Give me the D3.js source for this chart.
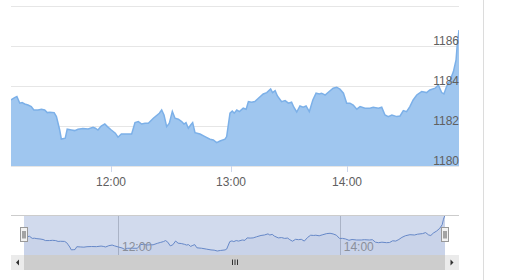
<!DOCTYPE html>
<html><head><meta charset="utf-8">
<script src="https://cdn.jsdelivr.net/npm/d3@7"></script>
<style>body{margin:0;background:#fff}svg{display:block;font-family:"Liberation Sans",Arial,sans-serif}</style>
</head><body><svg id="c" width="522" height="280"></svg>
<script>
const times = ["11:09:00","11:10:50","11:12:00","11:13:30","11:14:40","11:16:00","11:17:40","11:19:20","11:20:40","11:22:50",
"11:24:30","11:26:10","11:27:30","11:28:50","11:31:00","11:32:10","11:33:00","11:33:50","11:34:40","11:36:00",
"11:36:40","11:37:40","11:39:50","11:41:30","11:43:10","11:45:40","11:48:20","11:50:50","11:52:00","11:53:20",
"11:55:00","11:56:50","11:58:10","12:00:10","12:02:10","12:03:30","12:05:10","12:07:40","12:10:20","12:12:00",
"12:13:40","12:15:20","12:17:00","12:18:40","12:21:10","12:22:30","12:24:10","12:25:20","12:26:30","12:27:50",
"12:29:10","12:30:40","12:32:00","12:33:40","12:35:20","12:36:30","12:37:30","12:38:40","12:39:50","12:40:50",
"12:42:00","12:44:30","12:47:00","12:49:30","12:51:10","12:52:50","12:54:30","12:57:00","12:57:50","12:59:30",
"13:00:40","13:01:40","13:03:00","13:04:20","13:06:20","13:07:50","13:09:00","13:10:40","13:12:20","13:14:10",
"13:16:40","13:18:30","13:20:30","13:21:30","13:22:50","13:24:00","13:26:10","13:28:00","13:29:40","13:31:20",
"13:32:30","13:34:00","13:35:40","13:37:20","13:38:50","13:40:30","13:42:20","13:44:00","13:45:40","13:46:50",
"13:48:40","13:50:20","13:52:50","13:54:40","13:56:20","13:58:10","13:59:50","14:01:30","14:03:10","14:05:00",
"14:06:40","14:09:10","14:11:40","14:13:20","14:16:00","14:17:40","14:19:20","14:21:00","14:22:50","14:25:20",
"14:27:00","14:28:40","14:30:20","14:32:00","14:33:40","14:35:30","14:38:00","14:40:30","14:42:10","14:44:50",
"14:46:30","14:48:10","14:49:20","14:50:40","14:52:30","14:54:10","14:55:30","14:56:10","14:57:00"];
const values = [1183.30,1183.42,1183.47,1183.14,1183.17,1183.10,1183.05,1182.97,1182.80,1182.80,
1182.84,1182.80,1182.67,1182.69,1182.67,1182.47,1182.14,1181.80,1181.35,1181.38,
1181.39,1181.84,1181.80,1181.77,1181.84,1181.87,1181.85,1181.94,1181.89,1181.80,
1182.00,1182.10,1181.97,1181.80,1181.64,1181.44,1181.60,1181.60,1181.60,1182.17,
1182.22,1182.10,1182.14,1182.14,1182.39,1182.50,1182.64,1182.80,1182.55,1181.97,
1182.14,1182.73,1182.39,1182.34,1182.22,1182.10,1182.17,1181.89,1182.05,1182.17,
1181.67,1181.60,1181.47,1181.34,1181.30,1181.17,1181.25,1181.34,1181.47,1182.64,
1182.75,1182.64,1182.80,1182.72,1182.89,1182.84,1183.22,1183.19,1183.22,1183.39,
1183.60,1183.67,1183.85,1183.67,1183.77,1183.50,1183.22,1183.27,1183.14,1183.19,
1182.94,1182.70,1183.00,1182.94,1183.00,1182.72,1183.30,1183.64,1183.60,1183.64,
1183.55,1183.69,1183.89,1183.94,1183.84,1183.64,1183.14,1183.14,1183.05,1182.84,
1182.97,1182.89,1182.89,1182.94,1182.89,1182.94,1182.55,1182.47,1182.55,1182.47,
1182.50,1182.77,1182.72,1182.97,1183.30,1183.55,1183.72,1183.67,1183.80,1183.89,
1184.05,1183.67,1183.60,1183.97,1184.30,1184.72,1185.30,1186.14,1186.80];
const yTickValues = [1180, 1182, 1184, 1186, 1188];
const xTickLabels = ["12:00", "13:00", "14:00"];
const navTickLabels = ["12:00", "14:00"];
const axisAnchors = ["11:09:00", "12:00:00", "13:00:00", "14:00:00", "14:57:00"];

const parse = d3.timeParse("%H:%M:%S");
const data = times.map((t, i) => ({ t: parse(t), v: values[i] }));

const svg = d3.select("#c");
const L = 11, R = 459, T = 6, B = 166;

// main scales (ordinal-like time axis: anchors at hour marks)
const x = d3.scaleTime().domain(axisAnchors.map(parse)).range([L, 111, 231, 347, R]);
const y = d3.scaleLinear().domain([1180, 1188]).range([B, T]);

// right border
svg.append("line").attr("x1", 483.5).attr("x2", 483.5).attr("y1", 0).attr("y2", 280)
  .attr("stroke", "#dcdcdc");

// gridlines
svg.append("g").selectAll("line").data(yTickValues).join("line")
  .attr("x1", L).attr("x2", R)
  .attr("y1", d => Math.round(y(d)) + 0.5).attr("y2", d => Math.round(y(d)) + 0.5)
  .attr("stroke", "#e6e6e6");

svg.append("clipPath").attr("id", "pc").append("rect")
  .attr("x", L).attr("y", 0).attr("width", R - L).attr("height", B);

const area = d3.area().x(d => x(d.t)).y0(y(1180)).y1(d => y(d.v));
const line = d3.line().x(d => x(d.t)).y(d => y(d.v));
svg.append("path").datum(data).attr("d", area).attr("fill", "#9fc6ef").attr("clip-path", "url(#pc)");
svg.append("path").datum(data).attr("d", line).attr("fill", "none")
  .attr("stroke", "#7cb0e8").attr("stroke-width", 1.5).attr("clip-path", "url(#pc)");

// x ticks
const hp = d3.timeParse("%H:%M");
const xg = svg.append("g");
xg.selectAll("line").data(xTickLabels).join("line")
  .attr("x1", d => Math.round(x(hp(d))) + 0.5).attr("x2", d => Math.round(x(hp(d))) + 0.5)
  .attr("y1", B).attr("y2", B + 6).attr("stroke", "#ccd6eb");
xg.selectAll("text").data(xTickLabels).join("text")
  .attr("x", d => x(hp(d))).attr("y", 185.5).attr("text-anchor", "middle")
  .attr("font-size", 12).attr("fill", "#606060").text(d => d);

// y labels
svg.append("g").selectAll("text").data(yTickValues.slice(0, -1)).join("text")
  .attr("x", R).attr("y", d => y(d) - 1).attr("text-anchor", "end")
  .attr("font-size", 12).attr("fill", "#606060").text(d => d);

// ---- navigator ----
const NT = 215, NB = 255, NL = 24, NR = 445;
const scaleK = (NR - NL) / (R - L);
const nx = d3.scaleTime().domain(x.domain()).range(x.range().map(r => NL + (r - L) * scaleK));
const ny = d3.scaleLinear().domain(d3.extent(values)).range([251, 215]);
const ng = svg.append("g");
ng.selectAll("line.g").data(navTickLabels).join("line").attr("class", "g")
  .attr("x1", d => Math.round(nx(hp(d))) + 0.5).attr("x2", d => Math.round(nx(hp(d))) + 0.5)
  .attr("y1", NT).attr("y2", NB).attr("stroke", "#c8c8c8");
ng.append("rect").attr("x", NL).attr("y", NT).attr("width", NR - NL).attr("height", NB - NT)
  .attr("fill", "rgba(102,133,194,0.3)");
ng.append("path").datum(data).attr("d", d3.area().x(d => nx(d.t)).y0(NB).y1(d => ny(d.v)))
  .attr("fill", "rgba(51,92,173,0.05)");
ng.append("path").datum(data).attr("d", d3.line().x(d => nx(d.t)).y(d => ny(d.v)))
  .attr("fill", "none").attr("stroke", "#6688c8").attr("stroke-width", 1);
ng.selectAll("text").data(navTickLabels).join("text")
  .attr("x", d => nx(hp(d)) + 4).attr("y", 251).attr("font-size", 12)
  .attr("fill", "#8a8f9a").text(d => d);
ng.append("line").attr("x1", L).attr("x2", R).attr("y1", NT + 0.5).attr("y2", NT + 0.5)
  .attr("stroke", "#cccccc");

// handles
[NL, NR].forEach(cx => {
  const hx = Math.round(cx) - 3.5;
  ng.append("rect").attr("x", hx).attr("y", 227.5).attr("width", 7).attr("height", 14)
    .attr("fill", "#f2f2f2").attr("stroke", "#999");
  [hx + 2.5, hx + 4.5].forEach(lx => ng.append("line").attr("x1", lx).attr("x2", lx)
    .attr("y1", 231).attr("y2", 238.5).attr("stroke", "#555"));
});

// scrollbar
const ST = 255, SH = 15;
ng.append("rect").attr("x", L).attr("y", ST).attr("width", R - L).attr("height", SH).attr("fill", "#cdcdcd");
ng.append("rect").attr("x", L).attr("y", ST).attr("width", NL - L).attr("height", SH).attr("fill", "#ebebeb");
ng.append("rect").attr("x", NR).attr("y", ST).attr("width", R - NR).attr("height", SH).attr("fill", "#ebebeb");
const my = ST + SH / 2;
ng.append("path").attr("d", `M${(L + NL) / 2 + 1.5},${my - 3}L${(L + NL) / 2 - 1.5},${my}L${(L + NL) / 2 + 1.5},${my + 3}Z`).attr("fill", "#333");
ng.append("path").attr("d", `M${(NR + R) / 2 - 1.5},${my - 3}L${(NR + R) / 2 + 1.5},${my}L${(NR + R) / 2 - 1.5},${my + 3}Z`).attr("fill", "#333");
const mid = Math.round((NL + NR) / 2);
[-2.5, 0, 2.5].forEach(o => ng.append("line").attr("x1", mid + o).attr("x2", mid + o)
  .attr("y1", my - 3).attr("y2", my + 2.5).attr("stroke", "#333"));
</script></body></html>
